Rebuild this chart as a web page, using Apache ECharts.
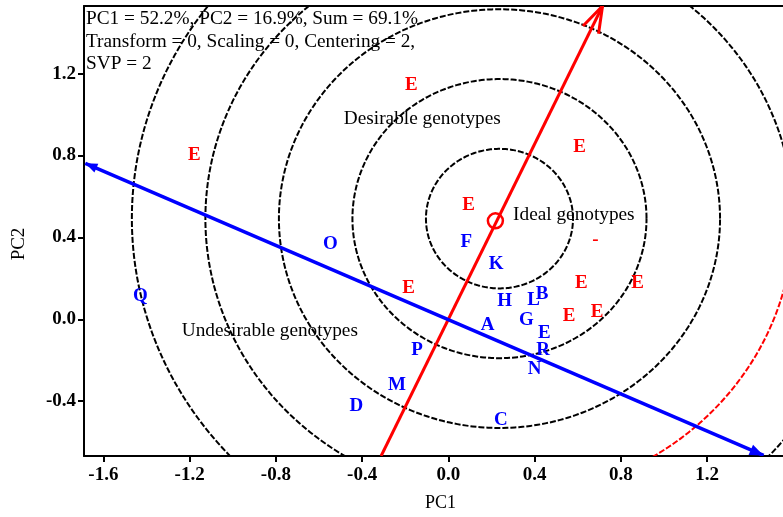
<!DOCTYPE html>
<html>
<head>
<meta charset="utf-8">
<title>GGE biplot</title>
<script src="https://cdn.jsdelivr.net/npm/echarts@6/dist/echarts.min.js"></script>
<style>
  html, body { margin: 0; padding: 0; background: #ffffff; }
  #chart { width: 783px; height: 517px; }
</style>
</head>
<body>
<div id="chart"></div>
<script>
// Environment labels (red)
const envLabels = ['E', 'E', 'E', 'E', 'E', 'E', 'E', 'E', 'E', '-'];
const envX = [-0.172, -1.178, 0.608, 0.094, -0.184, 0.617, 0.878, 0.560, 0.690, 0.682];
const envY = [1.147, 0.805, 0.846, 0.563, 0.155, 0.180, 0.180, 0.023, 0.039, 0.390];

// Genotype labels (blue)
const genLabels = ['O', 'Q', 'F', 'K', 'H', 'L', 'B', 'G', 'A', 'E', 'R', 'N', 'P', 'M', 'D', 'C'];
const genX = [-0.547, -1.429, 0.083, 0.221, 0.261, 0.395, 0.435, 0.362, 0.182, 0.445, 0.439, 0.400, -0.145, -0.238, -0.427, 0.244];
const genY = [0.370, 0.117, 0.382, 0.275, 0.093, 0.101, 0.130, 0.003, -0.021, -0.062, -0.148, -0.236, -0.148, -0.315, -0.421, -0.486];

// Ideal genotype marker and concentric rings around it
const idealPoint = [0.218, 0.481];
const ringCenter = [0.237, 0.492];
const ringRadii = [0.341, 0.682, 1.023, 1.364, 1.705];
// Fourth ring: its lower-right quarter is drawn in red (angles in degrees)
const redRingIndex = 3;
const redArc = { from: -90, to: 0 };

// Average-environment axes
const atcAxis = [-0.312, -0.668, 0.715, 1.531];   // red, arrow at the end
const ataAxis = [-1.684, 0.762, 1.462, -0.665];   // blue, arrows at both ends

// Axis ranges and ticks
const xRange = [-1.69, 1.552];
const yRange = [-0.668, 1.531];
const xTicks = [-1.6, -1.2, -0.8, -0.4, 0, 0.4, 0.8, 1.2];
const yTicks = [-0.4, 0, 0.4, 0.8, 1.2];

// Annotations
const infoLines = [
  'PC1 = 52.2%, PC2 = 16.9%, Sum = 69.1%',
  'Transform = 0, Scaling = 0, Centering = 2,',
  'SVP = 2'
];
const zoneText = ['Desirable genotypes', 'Ideal genotypes', 'Undesirable genotypes'];
const zoneX = [-0.121, 0.582, -0.828];
const zoneY = [0.983, 0.517, -0.054];

const SERIF = '"Liberation Serif", "Times New Roman", serif';
const RED = '#ff0000';
const BLUE = '#0000ff';
const TXT = 19.3;

const chart = echarts.init(document.getElementById('chart'), null, { renderer: 'canvas' });

function arcPoints(api, c, r, a0, a1) {
  const pts = [];
  for (let a = a0; a <= a1 + 1e-9; a += 1) {
    const t = a * Math.PI / 180;
    pts.push(api.coord([c[0] + r * Math.cos(t), c[1] + r * Math.sin(t)]));
  }
  return pts;
}

function arrowWings(tip, from, len, halfDeg) {
  const dx = from[0] - tip[0], dy = from[1] - tip[1];
  const d = Math.hypot(dx, dy);
  const ux = dx / d, uy = dy / d;
  const a = halfDeg * Math.PI / 180;
  const rot = (s) => [
    tip[0] + len * (ux * Math.cos(s * a) - uy * Math.sin(s * a)),
    tip[1] + len * (ux * Math.sin(s * a) + uy * Math.cos(s * a))
  ];
  return [rot(1), rot(-1)];
}

function labelSeries(xs, ys, names, color, bold, size, z) {
  return {
    type: 'scatter', silent: true, z: z, symbolSize: 1,
    itemStyle: { color: 'transparent', opacity: 1 },
    data: xs.map((x, i) => ({ value: [x, ys[i]], name: names[i] })),
    label: {
      show: true, position: 'inside', formatter: '{b}', offset: [0, 1],
      color: color, opacity: 1, fontFamily: SERIF,
      fontWeight: bold ? 'bold' : 'normal', fontSize: size
    }
  };
}

const option = {
  backgroundColor: '#ffffff',
  animation: false,
  grid: { left: 84, right: 0, top: 6, bottom: 61, containLabel: false },
  xAxis: [
    {
      type: 'value', position: 'bottom', min: xRange[0], max: xRange[1],
      axisLine: { show: true, onZero: false, lineStyle: { color: '#000', width: 2 } },
      axisTick: { show: true, inside: false, length: 6, customValues: xTicks, lineStyle: { color: '#000', width: 2 } },
      axisLabel: {
        customValues: xTicks, formatter: (v) => v.toFixed(1), margin: 10,
        color: '#000', fontFamily: SERIF, fontWeight: 'bold', fontSize: 19
      },
      splitLine: { show: false }
    },
    {
      type: 'value', position: 'top', min: xRange[0], max: xRange[1],
      axisLine: { show: true, onZero: false, lineStyle: { color: '#000', width: 2 } },
      axisTick: { show: false }, axisLabel: { show: false }, splitLine: { show: false }
    }
  ],
  yAxis: {
    type: 'value', min: yRange[0], max: yRange[1],
    axisLine: { show: true, onZero: false, lineStyle: { color: '#000', width: 2 } },
    axisTick: { show: true, inside: false, length: 6, customValues: yTicks, lineStyle: { color: '#000', width: 2 } },
    axisLabel: {
      customValues: yTicks, formatter: (v) => v.toFixed(1), margin: 8,
      color: '#000', fontFamily: SERIF, fontWeight: 'bold', fontSize: 19
    },
    splitLine: { show: false }
  },
  graphic: [
    {
      type: 'text', left: 86, top: 8, z: 100,
      style: { text: infoLines.join('\n'), font: TXT + 'px ' + SERIF, fill: '#000', lineHeight: 22.5 }
    },
    {
      type: 'text', x: 440.5, y: 503, z: 100,
      style: { text: 'PC1', font: '18px ' + SERIF, fill: '#000', align: 'center', verticalAlign: 'middle' }
    },
    {
      type: 'text', x: 19.5, y: 244, rotation: Math.PI / 2, z: 100,
      style: { text: 'PC2', font: '19px ' + SERIF, fill: '#000', align: 'center', verticalAlign: 'middle' }
    }
  ],
  series: [
    {
      // concentric rings (black part)
      type: 'custom', clip: true, silent: true, z: 1,
      data: ringRadii.map((r, i) => [ringCenter[0], ringCenter[1], r, i]),
      renderItem: (params, api) => {
        const r = api.value(2);
        const idx = api.value(3);
        const pts = idx === redRingIndex
          ? arcPoints(api, ringCenter, r, redArc.to, redArc.from + 360)
          : arcPoints(api, ringCenter, r, 0, 360);
        return {
          type: 'polyline', shape: { points: pts },
          style: { stroke: '#000', lineWidth: 2, lineDash: [6, 2], fill: null }
        };
      }
    },
    {
      // red quarter of the fourth ring
      type: 'custom', clip: true, silent: true, z: 2,
      data: [[ringCenter[0], ringCenter[1], ringRadii[redRingIndex]]],
      renderItem: (params, api) => {
        const pts = arcPoints(api, ringCenter, api.value(2), redArc.from, redArc.to);
        return {
          type: 'polyline', shape: { points: pts },
          style: { stroke: RED, lineWidth: 2, lineDash: [6, 2], fill: null }
        };
      }
    },
    {
      // red axis with open arrowhead
      type: 'custom', clip: true, silent: true, z: 3,
      encode: { x: [0, 2], y: [1, 3] },
      data: [atcAxis],
      renderItem: (params, api) => {
        const p1 = api.coord([api.value(0), api.value(1)]);
        const p2 = api.coord([api.value(2), api.value(3)]);
        const w = arrowWings(p2, p1, 28, 18);
        return {
          type: 'group', children: [
            { type: 'line', shape: { x1: p1[0], y1: p1[1], x2: p2[0], y2: p2[1] }, style: { stroke: RED, lineWidth: 3 } },
            { type: 'polyline', shape: { points: [w[0], p2, w[1]] }, style: { stroke: RED, lineWidth: 3, fill: null } }
          ]
        };
      }
    },
    {
      // blue axis with arrowheads at both ends
      type: 'custom', clip: true, silent: true, z: 3,
      encode: { x: [0, 2], y: [1, 3] },
      data: [ataAxis],
      renderItem: (params, api) => {
        const p1 = api.coord([api.value(0), api.value(1)]);
        const p2 = api.coord([api.value(2), api.value(3)]);
        const wa = arrowWings(p1, p2, 13, 22);
        const wb = arrowWings(p2, p1, 15, 22);
        return {
          type: 'group', children: [
            { type: 'line', shape: { x1: p1[0], y1: p1[1], x2: p2[0], y2: p2[1] }, style: { stroke: BLUE, lineWidth: 3.5 } },
            { type: 'polygon', shape: { points: [p1, wa[0], wa[1]] }, style: { fill: BLUE } },
            { type: 'polygon', shape: { points: [p2, wb[0], wb[1]] }, style: { fill: BLUE } }
          ]
        };
      }
    },
    {
      // ideal genotype marker
      type: 'scatter', silent: true, z: 4,
      symbol: 'circle', symbolSize: 15,
      itemStyle: { color: 'transparent', borderColor: RED, borderWidth: 2.5, opacity: 1 },
      data: [idealPoint]
    },
    labelSeries(envX, envY, envLabels, RED, true, 19, 5),
    labelSeries(genX, genY, genLabels, BLUE, true, 19, 5),
    labelSeries(zoneX, zoneY, zoneText, '#000', false, TXT, 6)
  ]
};

chart.setOption(option);
</script>
</body>
</html>
